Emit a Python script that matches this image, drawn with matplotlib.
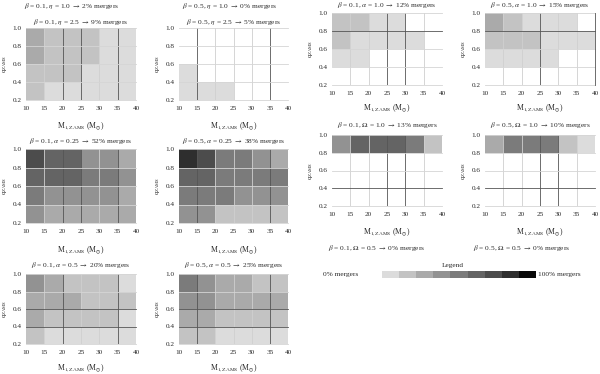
import matplotlib
matplotlib.use("Agg")
import matplotlib.pyplot as plt
from matplotlib.colors import ListedColormap, BoundaryNorm
import numpy as np

plt.rcParams['font.family'] = ['Liberation Serif', 'DejaVu Serif']
plt.rcParams['mathtext.fontset'] = 'stix'

# ---- data ----
mass_edges = [10, 15, 20, 25, 30, 35, 40]
q_edges = [0.2, 0.4, 0.6, 0.8, 1.0]
x_ticks = [10, 15, 20, 25, 30, 35, 40]
y_ticks = [0.2, 0.4, 0.6, 0.8, 1.0]

# merger-fraction level (0 = 0% ... 9 = 100%), rows from q=0.2 upward, columns from M=10
levels_b01_eta = [[2, 1, 1, 1, 1, 1],
                  [2, 2, 2, 1, 1, 1],
                  [3, 2, 2, 2, 1, 1],
                  [3, 2, 2, 2, 1, 1]]
levels_b05_eta = [[1, 1, 1, 0, 0, 0],
                  [1, 0, 0, 0, 0, 0],
                  [0, 0, 0, 0, 0, 0],
                  [0, 0, 0, 0, 0, 0]]
levels_b01_a10 = [[0, 0, 0, 0, 0, 0],
                  [1, 1, 0, 0, 0, 0],
                  [2, 1, 1, 1, 1, 0],
                  [2, 2, 1, 1, 0, 0]]
levels_b05_a10 = [[0, 0, 0, 0, 0, 0],
                  [1, 1, 1, 1, 0, 0],
                  [2, 2, 2, 1, 1, 1],
                  [3, 2, 1, 1, 1, 0]]
levels_b01_a025 = [[4, 3, 3, 3, 3, 3],
                   [5, 4, 4, 4, 4, 3],
                   [6, 6, 6, 5, 5, 4],
                   [7, 6, 6, 4, 4, 3]]
levels_b05_a025 = [[4, 4, 2, 2, 2, 2],
                   [5, 5, 5, 4, 4, 4],
                   [6, 6, 5, 5, 5, 5],
                   [8, 7, 5, 5, 4, 3]]
levels_b01_om10 = [[0, 0, 0, 0, 0, 0],
                   [0, 0, 0, 0, 0, 0],
                   [0, 0, 0, 0, 0, 0],
                   [4, 6, 6, 6, 5, 2]]
levels_b05_om10 = [[0, 0, 0, 0, 0, 0],
                   [0, 0, 0, 0, 0, 0],
                   [0, 0, 0, 0, 0, 0],
                   [3, 5, 5, 5, 2, 1]]
levels_b01_a05 = [[2, 1, 1, 1, 1, 1],
                  [3, 2, 2, 2, 2, 1],
                  [3, 3, 3, 2, 2, 2],
                  [4, 3, 2, 2, 2, 1]]
levels_b05_a05 = [[2, 2, 1, 1, 1, 1],
                  [3, 3, 2, 2, 2, 2],
                  [4, 4, 3, 3, 3, 3],
                  [5, 4, 3, 3, 2, 2]]

titles = {
    'b01_eta': r"$\beta$ = 0.1, $\eta$ = 2.5 $\rightarrow$ 9% mergers",
    'b05_eta': r"$\beta$ = 0.5, $\eta$ = 2.5 $\rightarrow$ 5% mergers",
    'b01_a10': r"$\beta$ = 0.1, $\alpha$ = 1.0 $\rightarrow$ 12% mergers",
    'b05_a10': r"$\beta$ = 0.5, $\alpha$ = 1.0 $\rightarrow$ 15% mergers",
    'b01_a025': r"$\beta$ = 0.1, $\alpha$ = 0.25 $\rightarrow$ 52% mergers",
    'b05_a025': r"$\beta$ = 0.5, $\alpha$ = 0.25 $\rightarrow$ 38% mergers",
    'b01_om10': r"$\beta$ = 0.1, $\Omega$ = 1.0 $\rightarrow$ 13% mergers",
    'b05_om10': r"$\beta$ = 0.5, $\Omega$ = 1.0 $\rightarrow$ 10% mergers",
    'b01_a05': r"$\beta$ = 0.1, $\alpha$ = 0.5 $\rightarrow$ 20% mergers",
    'b05_a05': r"$\beta$ = 0.5, $\alpha$ = 0.5 $\rightarrow$ 25% mergers",
}
extra_texts = [
    (r"$\beta$ = 0.1, $\eta$ = 1.0 $\rightarrow$ 2% mergers", 72, 6),
    (r"$\beta$ = 0.5, $\eta$ = 1.0 $\rightarrow$ 0% mergers", 230, 6),
    (r"$\beta$ = 0.1, $\Omega$ = 0.5 $\rightarrow$ 0% mergers", 377, 248),
    (r"$\beta$ = 0.5, $\Omega$ = 0.5 $\rightarrow$ 0% mergers", 522, 248),
]

legend_levels = list(range(10))
grey_colors = ['#ffffff', '#dcdcdc', '#c3c3c3', '#aaaaaa', '#929292',
               '#7b7b7b', '#646464', '#4c4c4c', '#2e2e2e', '#080808']

# ---- layout ----
W, H = 600, 374
fig = plt.figure(figsize=(6.0, 3.74), dpi=100)
cmap = ListedColormap(grey_colors)
norm = BoundaryNorm(np.arange(-0.5, 10.5, 1), cmap.N)
TXT = '#2a2a2a'

def px_axes(x0, y0, x1, y1):
    return fig.add_axes([x0 / W, 1 - y1 / H, (x1 - x0) / W, (y1 - y0) / H])

panels = [
    ('b01_eta', levels_b01_eta, (26, 28, 136, 100), 22, 126, [20, 25, 35], []),
    ('b05_eta', levels_b05_eta, (179, 28, 288, 100), 22, 126, [15, 35], []),
    ('b01_a10', levels_b01_a10, (332, 13, 442, 85), 5, 108, [25, 30], [0.8]),
    ('b05_a10', levels_b05_a10, (485, 13, 595, 85), 5, 108, [25, 40], [0.8]),
    ('b01_a025', levels_b01_a025, (26, 149, 136, 223), 141, 250, [20, 25, 35], []),
    ('b05_a025', levels_b05_a025, (179, 149, 288, 223), 141, 250, [15, 35], []),
    ('b01_om10', levels_b01_om10, (332, 135, 442, 206), 125, 232, [25, 30], [0.4]),
    ('b05_om10', levels_b05_om10, (485, 135, 595, 206), 125, 232, [25, 30], [0.4]),
    ('b01_a05', levels_b01_a05, (26, 274, 136, 344), 265, 368, [20, 35], [0.4, 0.6]),
    ('b05_a05', levels_b05_a05, (179, 274, 288, 344), 265, 368, [15, 35], [0.4, 0.6]),
]

for key, lv, (x0, y0, x1, y1), ty, xly, dark_v, dark_h in panels:
    ax = px_axes(x0, y0, x1, y1)
    ax.pcolormesh(mass_edges, q_edges, np.array(lv), cmap=cmap, norm=norm)
    ax.set_xlim(10, 40)
    ax.set_ylim(0.2, 1.0)
    ax.set_xticks(x_ticks)
    ax.set_yticks(y_ticks)
    ax.set_xticklabels([str(v) for v in x_ticks])
    ax.set_yticklabels([f"{v:.1f}" for v in y_ticks])
    ax.tick_params(axis='x', length=0, labelsize=5.2, pad=4, colors=TXT)
    ax.tick_params(axis='y', length=0, labelsize=5.2, pad=3, colors=TXT)
    for s in ax.spines.values():
        s.set_visible(False)
    for v in x_ticks[1:-1]:
        ax.axvline(v, color='#555555' if v in dark_v else '#cfcfcf', lw=0.6, zorder=3)
    for v in y_ticks:
        ax.axhline(v, color='#555555' if v in dark_h else '#d5d5d5', lw=0.6, zorder=3, clip_on=False)
    if 40 in dark_v:
        ax.axvline(40, color='#555555', lw=0.6, zorder=3, clip_on=False)
    fig.text((x0 + x1) / 2 / W, 1 - ty / H, titles[key], ha='center', va='center', fontsize=5.3, color=TXT)
    fig.text((x0 + x1) / 2 / W, 1 - xly / H, r"M$_{\mathrm{1,ZAMS}}$ (M$_{\odot}$)", ha='center', va='center', fontsize=5.6, color=TXT)
    fig.text((x0 - 21) / W, 1 - (y0 + y1) / 2 / H, r"q$_{\mathrm{ZAMS}}$", ha='center', va='center', rotation=90, fontsize=4.8, color=TXT)

for txt, xc, yc in extra_texts:
    fig.text(xc / W, 1 - yc / H, txt, ha='center', va='center', fontsize=5.3, color=TXT)

# legend
lax = px_axes(365, 271, 535, 278)
lax.imshow(np.array([legend_levels]), cmap=cmap, norm=norm, aspect='auto',
           extent=(-0.5, 9.5, 0, 1))
lax.set_axis_off()
fig.text(453 / W, 1 - 266 / H, "Legend", ha='center', va='center', fontsize=5.3, color=TXT)
fig.text(323 / W, 1 - 274.5 / H, "0% mergers", ha='left', va='center', fontsize=5.3, color=TXT)
fig.text(538 / W, 1 - 274.5 / H, "100% mergers", ha='left', va='center', fontsize=5.3, color=TXT)

fig.savefig("out.png", dpi=100)
